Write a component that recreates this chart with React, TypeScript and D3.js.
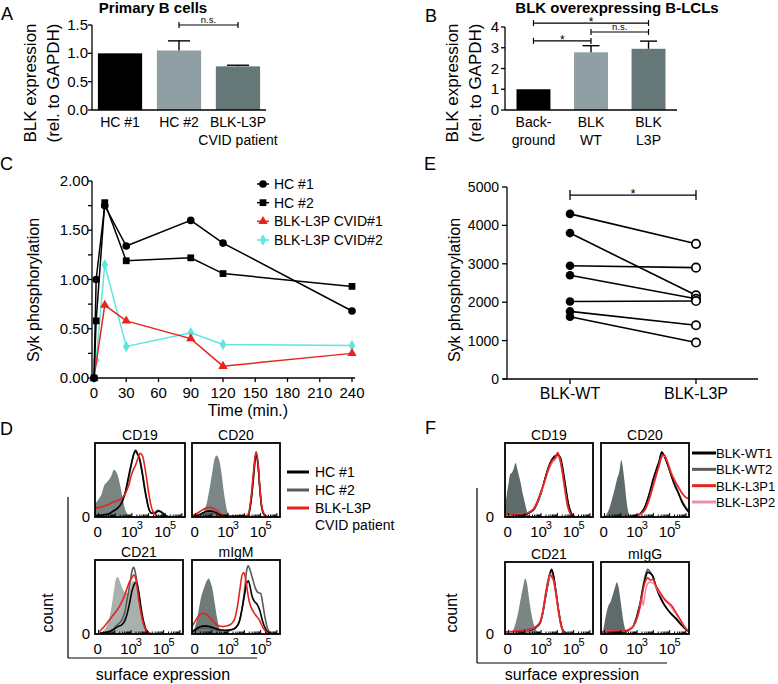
import React from "react";
import * as d3 from "d3";

const FONT = "'Liberation Sans', Arial, Helvetica, sans-serif";

// ---------- A: primary B cells ----------
const aCategories = ["HC #1", "HC #2", "BLK-L3P"];
const aLabelLines = [["HC #1"], ["HC #2"], ["BLK-L3P", "CVID patient"]];
const aValues = [1.0, 1.05, 0.77];
const aErrorTops = [1.0, 1.22, 0.79];
const aTicks = [0, 0.5, 1.0, 1.5];

// ---------- B: BLK overexpressing B-LCLs ----------
const bCategories = ["Background", "BLK WT", "BLK L3P"];
const bLabelLines = [["Back-", "ground"], ["BLK", "WT"], ["BLK", "L3P"]];
const bValues = [1.0, 2.78, 2.95];
const bErrorTops = [1.0, 3.1, 3.32];
const bTicks = [0, 1, 2, 3, 4];

// ---------- C: Syk phosphorylation time course ----------
const cTimeTicks = [0, 30, 60, 90, 120, 150, 180, 210, 240];
const cYTicks = [0, 0.5, 1.0, 1.5, 2.0];
const cYMinorTicks = [0.25, 0.75, 1.25, 1.75];
const cTimesHC = [0, 2, 10, 30, 90, 120, 240];
const cHC1 = [0, 1.0, 1.75, 1.34, 1.6, 1.37, 0.68];
const cHC2 = [0, 0.58, 1.78, 1.19, 1.22, 1.06, 0.93];
const cTimesCVID1 = [0, 10, 30, 90, 120, 240];
const cCVID1 = [0, 0.74, 0.58, 0.4, 0.12, 0.25];
const cTimesCVID2 = [0, 2, 10, 30, 90, 120, 240];
const cCVID2 = [0, 0.18, 1.15, 0.32, 0.46, 0.34, 0.33];
const cLegend = ["HC #1", "HC #2", "BLK-L3P CVID#1", "BLK-L3P CVID#2"];

// ---------- E: paired Syk phosphorylation ----------
const eGroups = ["BLK-WT", "BLK-L3P"];
const eWT = [4300, 3800, 2950, 2700, 2020, 1760, 1620];
const eL3P = [3520, 2180, 2900, 2090, 2030, 1400, 950];
const eTicks = [0, 1000, 2000, 3000, 4000, 5000];

// ---------- D / F: flow histograms, [channel 0-100, % of max] ----------
const dCD19Iso = [[0, 18], [4, 24], [7, 30], [10, 42], [14, 48], [18, 55], [21, 64], [24, 60], [27, 48], [30, 30], [33, 12], [36, 4], [40, 1], [45, 0]];
const dCD19HC1 = [[0, 2], [10, 3], [15, 4], [20, 8], [25, 12], [30, 20], [34, 35], [37, 53], [40, 70], [42, 80], [45, 90], [48, 83], [50, 75], [53, 55], [55, 39], [58, 20], [60, 10], [63, 5], [67, 5], [70, 8], [73, 7], [76, 4], [80, 1], [85, 0]];
const dCD19HC2 = [[0, 2], [10, 3], [20, 7], [27, 14], [33, 30], [37, 50], [40, 68], [43, 85], [45, 88], [47, 85], [50, 78], [53, 58], [56, 35], [59, 15], [62, 6], [66, 6], [70, 9], [74, 7], [78, 3], [82, 0]];
const dCD19CVID = [[0, 12], [5, 13], [10, 15], [15, 17], [20, 20], [25, 22], [28, 24], [33, 30], [36, 38], [38, 45], [40, 55], [42, 62], [45, 70], [48, 80], [50, 86], [53, 82], [55, 70], [57, 55], [60, 30], [63, 12], [66, 4], [70, 1], [75, 0]];

const dCD20Iso = [[5, 0], [10, 2], [13, 6], [17, 20], [20, 39], [23, 60], [25, 75], [28, 83], [30, 80], [32, 71], [34, 55], [36, 35], [38, 20], [40, 8], [43, 2], [46, 0]];
const dCD20HC1 = [[0, 1], [8, 3], [13, 6], [18, 8], [22, 8], [27, 6], [32, 3], [40, 1], [60, 1], [64, 3], [67, 20], [70, 55], [72, 80], [73, 85], [75, 70], [77, 40], [79, 15], [82, 3], [86, 0]];
const dCD20HC2 = [[0, 1], [8, 2], [13, 4], [18, 5], [23, 5], [28, 3], [35, 1], [60, 1], [64, 3], [67, 22], [70, 58], [72, 82], [73, 86], [75, 72], [77, 40], [79, 15], [82, 3], [86, 0]];
const dCD20CVID = [[0, 2], [6, 5], [11, 9], [16, 12], [20, 13], [24, 12], [28, 9], [32, 5], [37, 2], [45, 1], [60, 1], [64, 4], [67, 25], [70, 62], [72, 84], [73, 88], [75, 74], [77, 42], [79, 16], [82, 4], [86, 0]];

const dCD21Iso = [[5, 0], [10, 5], [13, 10], [16, 20], [19, 38], [22, 62], [24, 75], [26, 77], [28, 72], [31, 62], [34, 56], [37, 55], [40, 62], [43, 72], [46, 70], [49, 52], [52, 30], [55, 12], [58, 4], [62, 0]];
const dCD21HC1 = [[5, 1], [12, 2], [18, 4], [22, 7], [26, 10], [30, 12], [33, 16], [36, 25], [39, 40], [42, 58], [45, 68], [47, 70], [50, 55], [52, 38], [55, 18], [58, 6], [62, 1], [66, 0]];
const dCD21HC2 = [[5, 1], [14, 3], [20, 6], [25, 12], [30, 18], [34, 30], [37, 50], [40, 70], [42, 85], [44, 90], [46, 82], [48, 68], [51, 42], [54, 20], [57, 7], [61, 1], [65, 0]];
const dCD21CVID = [[5, 3], [9, 8], [13, 14], [17, 20], [21, 26], [25, 32], [29, 40], [33, 50], [36, 60], [39, 70], [42, 76], [44, 80], [46, 76], [48, 62], [50, 44], [53, 24], [56, 10], [60, 3], [64, 0]];

const dIgMIso = [[0, 0], [3, 8], [6, 22], [8, 35], [10, 48], [13, 60], [16, 70], [19, 75], [21, 70], [23, 62], [25, 48], [28, 25], [31, 8], [34, 2], [38, 0]];
const dIgMHC1 = [[0, 3], [5, 7], [10, 10], [15, 11], [20, 10], [25, 8], [30, 6], [38, 5], [45, 6], [50, 9], [54, 18], [57, 35], [60, 55], [62, 68], [64, 72], [66, 64], [68, 52], [71, 44], [74, 40], [77, 32], [80, 18], [84, 6], [88, 1], [92, 0]];
const dIgMHC2 = [[0, 2], [6, 6], [11, 8], [16, 8], [22, 7], [30, 5], [40, 4], [48, 7], [53, 14], [57, 35], [60, 62], [62, 85], [64, 92], [66, 86], [69, 74], [72, 62], [75, 56], [78, 55], [80, 44], [83, 22], [86, 7], [90, 1], [93, 0]];
const dIgMCVID = [[0, 10], [4, 18], [8, 25], [12, 28], [16, 27], [20, 22], [25, 16], [30, 11], [35, 10], [40, 11], [45, 14], [49, 22], [52, 40], [55, 65], [57, 80], [59, 83], [61, 74], [63, 58], [65, 44], [68, 34], [72, 26], [76, 20], [80, 10], [84, 3], [88, 0]];

const fCD19Iso = [[0, 10], [2, 30], [4, 45], [6, 58], [8, 60], [10, 66], [12, 73], [14, 65], [16, 55], [18, 45], [20, 32], [22, 22], [24, 12], [26, 4], [29, 1], [32, 0]];
const fCD19WT1 = [[0, 2], [10, 2], [20, 3], [28, 6], [33, 11], [37, 20], [41, 33], [45, 50], [49, 66], [53, 77], [57, 82], [60, 84], [63, 80], [66, 63], [69, 40], [72, 18], [75, 6], [78, 1], [82, 0]];
const fCD19WT2 = [[0, 2], [10, 3], [20, 3], [28, 6], [33, 10], [37, 19], [41, 32], [45, 49], [49, 65], [53, 76], [57, 83], [60, 82], [63, 78], [66, 61], [69, 38], [72, 17], [75, 5], [78, 1], [82, 0]];
const fCD19L3P1 = [[0, 3], [10, 3], [20, 4], [28, 7], [33, 12], [37, 22], [41, 35], [45, 48], [49, 64], [53, 75], [57, 80], [60, 87], [62, 80], [65, 62], [68, 38], [71, 16], [74, 5], [78, 1], [82, 0]];
const fCD19L3P2 = [[0, 2], [10, 3], [20, 4], [28, 7], [33, 12], [37, 21], [41, 34], [45, 47], [49, 62], [53, 72], [57, 78], [60, 82], [62, 79], [65, 61], [68, 37], [71, 15], [74, 5], [78, 1], [82, 0]];

const fCD20Iso = [[3, 0], [6, 3], [9, 10], [12, 22], [15, 35], [18, 50], [21, 62], [23, 77], [25, 65], [27, 45], [29, 22], [31, 7], [33, 2], [36, 0]];
const fCD20WT1 = [[30, 1], [40, 2], [45, 5], [50, 14], [55, 32], [59, 50], [63, 65], [66, 75], [69, 88], [72, 82], [76, 70], [80, 55], [84, 42], [88, 32], [92, 20], [96, 12], [100, 6]];
const fCD20WT2 = [[30, 1], [40, 2], [45, 5], [50, 13], [55, 30], [59, 48], [63, 63], [66, 74], [69, 86], [72, 83], [76, 70], [80, 56], [84, 44], [88, 33], [92, 22], [96, 14], [100, 8]];
const fCD20L3P1 = [[30, 1], [40, 2], [45, 4], [50, 10], [55, 25], [59, 42], [63, 58], [66, 70], [69, 82], [72, 84], [76, 72], [80, 58], [84, 48], [88, 40], [92, 32], [96, 27], [100, 25]];
const fCD20L3P2 = [[30, 1], [40, 2], [45, 4], [50, 9], [55, 24], [59, 40], [63, 56], [66, 68], [69, 80], [72, 82], [76, 74], [80, 60], [84, 50], [88, 41], [92, 33], [96, 27], [100, 24]];

const fCD21Iso = [[5, 1], [9, 5], [12, 15], [15, 30], [18, 50], [21, 68], [23, 77], [25, 70], [27, 52], [30, 28], [33, 12], [36, 4], [40, 0]];
const fCD21WT1 = [[0, 2], [15, 3], [25, 5], [32, 7], [36, 10], [40, 16], [43, 30], [46, 52], [49, 72], [52, 88], [53, 90], [55, 82], [58, 58], [61, 32], [64, 12], [67, 3], [71, 0]];
const fCD21WT2 = [[0, 2], [15, 3], [25, 5], [32, 7], [36, 10], [40, 15], [43, 29], [46, 50], [49, 70], [52, 86], [53, 88], [55, 80], [58, 57], [61, 31], [64, 11], [67, 3], [71, 0]];
const fCD21L3P1 = [[0, 3], [15, 4], [25, 6], [32, 8], [36, 11], [40, 17], [43, 32], [46, 55], [49, 75], [51, 84], [53, 80], [55, 76], [58, 55], [61, 30], [64, 10], [67, 2], [71, 0]];
const fCD21L3P2 = [[0, 2], [15, 3], [25, 5], [32, 8], [36, 11], [40, 17], [43, 31], [46, 54], [49, 73], [51, 80], [53, 78], [55, 74], [58, 54], [61, 29], [64, 10], [67, 2], [71, 0]];

const fIgGIso = [[2, 2], [4, 15], [6, 28], [8, 38], [11, 45], [14, 57], [16, 65], [18, 72], [20, 65], [22, 48], [24, 30], [26, 14], [28, 5], [31, 1], [34, 0]];
const fIgGWT1 = [[0, 2], [15, 3], [25, 3], [32, 6], [37, 12], [41, 25], [45, 45], [48, 65], [51, 80], [53, 86], [56, 84], [59, 80], [62, 68], [66, 55], [70, 45], [75, 35], [80, 28], [85, 22], [90, 15], [95, 8], [100, 3]];
const fIgGWT2 = [[0, 2], [15, 3], [25, 3], [32, 6], [37, 12], [41, 26], [45, 47], [48, 68], [51, 84], [53, 90], [56, 86], [59, 80], [62, 67], [66, 54], [70, 44], [75, 35], [80, 27], [85, 21], [90, 14], [95, 8], [100, 3]];
const fIgGL3P1 = [[0, 3], [15, 4], [25, 4], [32, 6], [37, 11], [41, 22], [45, 42], [48, 62], [51, 75], [53, 78], [56, 75], [59, 76], [62, 68], [66, 60], [70, 52], [75, 45], [80, 40], [85, 30], [90, 20], [95, 10], [100, 3]];
const fIgGL3P2 = [[0, 3], [15, 4], [25, 4], [32, 7], [37, 12], [41, 22], [44, 35], [46, 50], [48, 40], [50, 56], [53, 70], [56, 72], [60, 70], [64, 62], [68, 54], [73, 46], [78, 40], [84, 30], [90, 20], [95, 10], [100, 3]];

const histTickLabels = ["0", "10", "10"];
const histTickExponents = ["", "3", "5"];
const dLegend = ["HC #1", "HC #2", "BLK-L3P"];
const fLegend = ["BLK-WT1", "BLK-WT2", "BLK-L3P1", "BLK-L3P2"];

// colours
const BLACK = "#000";
const GRAY_LINE = "#5a5a5a";
const RED = "#e8231e";
const PINK = "#f08cae";
const CYAN = "#5fe6dd";

// ---------------- bar panel ----------------
function BarPanel(p: any) {
  const y = d3.scaleLinear().domain([0, p.max]).range([p.bottom, p.top]);
  const x = d3.scaleBand<string>().domain(p.cats).range([p.left, p.right]).paddingInner(p.pIn).paddingOuter(p.pOut);
  const bw = x.bandwidth();
  const cx = (c: string) => (x(c) as number) + bw / 2;
  return (
    <g fontFamily={FONT}>
      {p.cats.map((c: string, i: number) => (
        <rect key={c} x={x(c)} y={y(p.values[i])} width={bw} height={y(0) - y(p.values[i])} fill={p.colors[i]} />
      ))}
      {p.cats.map((c: string, i: number) =>
        p.errTops[i] > p.values[i] ? (
          <g key={c} stroke={BLACK} strokeWidth={1.4}>
            <line x1={cx(c)} x2={cx(c)} y1={y(p.values[i])} y2={y(p.errTops[i])} />
            <line x1={cx(c) - bw / 4} x2={cx(c) + bw / 4} y1={y(p.errTops[i])} y2={y(p.errTops[i])} />
          </g>
        ) : null
      )}
      <line x1={p.left} x2={p.left} y1={y(p.max)} y2={y(0)} stroke={BLACK} strokeWidth={1.3} />
      <line x1={p.left} x2={p.right} y1={y(0)} y2={y(0)} stroke={BLACK} strokeWidth={1.3} />
      {p.ticks.map((t: number) => (
        <g key={t}>
          <line x1={p.left - 4} x2={p.left} y1={y(t)} y2={y(t)} stroke={BLACK} strokeWidth={1.3} />
          <text x={p.left - p.labelGap} y={y(t) + 5} textAnchor="end" fontSize={15}>{p.fmt(t)}</text>
        </g>
      ))}
      {p.cats.map((c: string, i: number) => (
        <text key={c} textAnchor="middle" fontSize={14}>
          {p.labelLines[i].map((l: string, j: number) => (
            <tspan key={j} x={cx(c)} y={y(0) + 17 + j * 18}>{l}</tspan>
          ))}
        </text>
      ))}
      {p.brackets.map((b: any, k: number) => {
        const x1 = cx(p.cats[b.from]);
        const x2 = cx(p.cats[b.to]);
        const yy = y(b.level);
        const star = b.label === "*";
        return (
          <g key={k}>
            <g stroke={BLACK} strokeWidth={1.2}>
              <line x1={x1} x2={x2} y1={yy} y2={yy} />
              <line x1={x1} x2={x1} y1={yy - 3} y2={yy + 3} />
              <line x1={x2} x2={x2} y1={yy - 3} y2={yy + 3} />
            </g>
            <text x={(x1 + x2) / 2} y={star ? yy + 3 : yy - 2} textAnchor="middle" fontSize={star ? 12 : 9.5}>{b.label}</text>
          </g>
        );
      })}
    </g>
  );
}

// ---------------- panel C ----------------
function TimeCourse() {
  const x = d3.scaleLinear().domain([0, 240]).range([94, 352]);
  const y = d3.scaleLinear().domain([0, 2]).range([378, 181]);
  const series = [
    { times: cTimesCVID2, vals: cCVID2, color: CYAN, sym: d3.symbolDiamond, size: 38 },
    { times: cTimesCVID1, vals: cCVID1, color: RED, sym: d3.symbolTriangle, size: 38 },
    { times: cTimesHC, vals: cHC1, color: BLACK, sym: d3.symbolCircle, size: 46 },
    { times: cTimesHC, vals: cHC2, color: BLACK, sym: d3.symbolSquare, size: 46 },
  ];
  const legendOrder = [2, 3, 1, 0];
  const legendY = d3.scalePoint<number>().domain([0, 1, 2, 3]).range([184, 240]);
  return (
    <g fontFamily={FONT}>
      {series.map((s, i) => {
        const line = d3.line<number>().x((_, k) => x(s.times[k])).y((v) => y(v));
        const sym = d3.symbol().type(s.sym).size(s.size)();
        return (
          <g key={i}>
            <path d={line(s.vals) || ""} fill="none" stroke={s.color} strokeWidth={1.5} />
            {s.vals.map((v, k) => (
              <path key={k} d={sym || ""} transform={`translate(${x(s.times[k])},${y(v)})`} fill={s.color} />
            ))}
          </g>
        );
      })}
      <line x1={92} x2={92} y1={y(2)} y2={y(0)} stroke={BLACK} strokeWidth={1.3} />
      <line x1={92} x2={355} y1={y(0)} y2={y(0)} stroke={BLACK} strokeWidth={1.3} />
      {cYTicks.map((t) => (
        <g key={t}>
          <line x1={88} x2={92} y1={y(t)} y2={y(t)} stroke={BLACK} strokeWidth={1.3} />
          <text x={89} y={y(t) + 5} textAnchor="end" fontSize={15}>{d3.format(".2f")(t)}</text>
        </g>
      ))}
      {cYMinorTicks.map((t) => (
        <line key={t} x1={88} x2={92} y1={y(t)} y2={y(t)} stroke={BLACK} strokeWidth={1.3} />
      ))}
      {cTimeTicks.map((t) => (
        <g key={t}>
          <line x1={x(t)} x2={x(t)} y1={y(0)} y2={y(0) + 4} stroke={BLACK} strokeWidth={1.3} />
          <text x={x(t)} y={y(0) + 20} textAnchor="middle" fontSize={15}>{t}</text>
        </g>
      ))}
      <text x={248} y={416} textAnchor="middle" fontSize={16}>Time (min.)</text>
      <text transform="translate(39,290) rotate(-90)" textAnchor="middle" fontSize={16}>Syk phosphorylation</text>
      {legendOrder.map((si, r) => {
        const s = series[si];
        const yy = legendY(r) as number;
        const sym = d3.symbol().type(s.sym).size(s.size)();
        return (
          <g key={r}>
            <line x1={257} x2={269} y1={yy} y2={yy} stroke={s.color} strokeWidth={1.5} />
            <path d={sym || ""} transform={`translate(263,${yy})`} fill={s.color} />
            <text x={274} y={yy + 5} fontSize={14}>{cLegend[r]}</text>
          </g>
        );
      })}
    </g>
  );
}

// ---------------- panel E ----------------
function Paired() {
  const x = d3.scalePoint<string>().domain(eGroups).range([570, 696]);
  const y = d3.scaleLinear().domain([0, 5000]).range([379, 187]);
  const xa = x(eGroups[0]) as number;
  const xb = x(eGroups[1]) as number;
  return (
    <g fontFamily={FONT}>
      {eWT.map((v, i) => (
        <line key={i} x1={xa} x2={xb} y1={y(v)} y2={y(eL3P[i])} stroke={BLACK} strokeWidth={1.6} />
      ))}
      {eWT.map((v, i) => (
        <circle key={"a" + i} cx={xa} cy={y(v)} r={4.3} fill={BLACK} />
      ))}
      {eL3P.map((v, i) => (
        <circle key={"b" + i} cx={xb} cy={y(v)} r={4.2} fill="#fff" stroke={BLACK} strokeWidth={1.7} />
      ))}
      <line x1={507} x2={507} y1={y(5000)} y2={y(0)} stroke={BLACK} strokeWidth={1.3} />
      <line x1={503} x2={758} y1={y(0)} y2={y(0)} stroke={BLACK} strokeWidth={1.3} />
      {eTicks.map((t) => (
        <g key={t}>
          <line x1={502} x2={507} y1={y(t)} y2={y(t)} stroke={BLACK} strokeWidth={1.3} />
          <text x={499} y={y(t) + 5} textAnchor="end" fontSize={14}>{t}</text>
        </g>
      ))}
      {eGroups.map((g) => (
        <g key={g}>
          <line x1={x(g)} x2={x(g)} y1={y(0)} y2={y(0) + 5} stroke={BLACK} strokeWidth={1.3} />
          <text x={x(g)} y={y(0) + 20} textAnchor="middle" fontSize={16}>{g}</text>
        </g>
      ))}
      <g stroke={BLACK} strokeWidth={1.3}>
        <line x1={xa} x2={xb} y1={y(4790)} y2={y(4790)} />
        <line x1={xa} x2={xa} y1={y(4790) - 5} y2={y(4790) + 5} />
        <line x1={xb} x2={xb} y1={y(4790) - 5} y2={y(4790) + 5} />
      </g>
      <text x={(xa + xb) / 2} y={y(4790) + 3} textAnchor="middle" fontSize={13}>*</text>
      <text transform="translate(460,290) rotate(-90)" textAnchor="middle" fontSize={16}>Syk phosphorylation</text>
    </g>
  );
}

// ---------------- flow histogram ----------------
function Histo(p: any) {
  const sx = d3.scaleLinear().domain([0, 100]).range([p.x0, p.x0 + p.w]);
  const sy = d3.scaleLinear().domain([0, 100]).range([p.y0 + p.h, p.y0]);
  const decade = d3.scaleLog().domain([1e3, 1e5]).range([41, 78]);
  const minor = d3.scaleLog().domain([10, 1e6]).ticks().filter((t) => decade(t) >= 1 && decade(t) <= 99);
  const area = d3.area<number[]>().x((d) => sx(d[0])).y0(sy(0)).y1((d) => sy(d[1])).curve(d3.curveMonotoneX);
  const line = d3.line<number[]>().x((d) => sx(d[0])).y((d) => sy(d[1])).curve(d3.curveMonotoneX);
  const labelPos = [3, decade(1e3), decade(1e5)];
  const bottom = p.y0 + p.h;
  return (
    <g fontFamily={FONT}>
      <clipPath id={p.id}>
        <rect x={p.x0} y={p.y0} width={p.w} height={p.h} />
      </clipPath>
      <g clipPath={`url(#${p.id})`}>
        <path d={area(p.iso) || ""} fill={p.isoColor} />
        {p.curves.map((c: any, i: number) => (
          <path key={i} d={line(c.data) || ""} fill="none" stroke={c.color} strokeWidth={1.6} />
        ))}
      </g>
      <rect x={p.x0} y={p.y0} width={p.w} height={p.h} fill="none" stroke={BLACK} strokeWidth={1.8} />
      {minor.map((t, i) => {
        const major = Math.abs(Math.log10(t) - Math.round(Math.log10(t))) < 1e-9;
        return (
          <line key={i} x1={sx(decade(t))} x2={sx(decade(t))} y1={bottom - (major ? 4 : 2.5)} y2={bottom} stroke={BLACK} strokeWidth={1} />
        );
      })}
      <text x={p.x0 + p.w / 2} y={p.y0 - 3} textAnchor="middle" fontSize={14}>{p.title}</text>
      {histTickLabels.map((l, i) => (
        <text key={i} x={sx(labelPos[i])} y={bottom + 20} textAnchor="middle" fontSize={15}>
          {l}
          {histTickExponents[i] ? <tspan dx={-1} dy={-8} fontSize={11}>{histTickExponents[i]}</tspan> : null}
        </text>
      ))}
      {p.zeroGap ? <text x={p.x0 - p.zeroGap} y={bottom + 5} textAnchor="end" fontSize={15}>0</text> : null}
    </g>
  );
}

function Label({ x, y, t }: any) {
  return <text x={x} y={y} fontFamily={FONT} fontSize={18}>{t}</text>;
}

export default function App() {
  const grayBarColors = [BLACK, "#909fa3", "#667777"];
  const dCurves = (hc1: any, hc2: any, cvid: any) => [
    { data: hc2, color: GRAY_LINE },
    { data: hc1, color: BLACK },
    { data: cvid, color: RED },
  ];
  const fCurves = (wt1: any, wt2: any, l1: any, l2: any) => [
    { data: wt2, color: GRAY_LINE },
    { data: wt1, color: BLACK },
    { data: l2, color: PINK },
    { data: l1, color: RED },
  ];
  const dLegendColors = [BLACK, GRAY_LINE, RED];
  const fLegendColors = [BLACK, GRAY_LINE, RED, PINK];
  const dLegendY = d3.scalePoint<number>().domain([0, 1, 2]).range([472, 508]);
  const fLegendY = d3.scalePoint<number>().domain([0, 1, 2, 3]).range([453, 502]);
  return (
    <svg width={778} height={684} style={{ position: "absolute", left: 0, top: 0, background: "#fff" }}>
      <rect width={778} height={684} fill="#fff" />
      {/* panel letters */}
      <Label x={1} y={20} t="A" />
      <Label x={425} y={22} t="B" />
      <Label x={0} y={170} t="C" />
      <Label x={424} y={170} t="E" />
      <Label x={0} y={435} t="D" />
      <Label x={425} y={434} t="F" />

      {/* A */}
      <text x={153} y={13} textAnchor="middle" fontFamily={FONT} fontWeight="bold" fontSize={15}>Primary B cells</text>
      <text transform="translate(36,83) rotate(-90)" textAnchor="middle" fontFamily={FONT} fontSize={17}>BLK expression</text>
      <text transform="translate(59,83) rotate(-90)" textAnchor="middle" fontFamily={FONT} fontSize={17}>(rel. to GAPDH)</text>
      <BarPanel left={92} right={266} top={25} bottom={110} max={1.5} ticks={aTicks} fmt={d3.format(".1f")} labelGap={4}
        cats={aCategories} labelLines={aLabelLines} values={aValues} errTops={aErrorTops} colors={grayBarColors}
        pIn={0.25} pOut={0.1} brackets={[{ from: 1, to: 2, level: 1.5, label: "n.s." }]} />

      {/* B */}
      <text x={617} y={13} textAnchor="middle" fontFamily={FONT} fontWeight="bold" fontSize={15}>BLK overexpressing B-LCLs</text>
      <text transform="translate(458,83) rotate(-90)" textAnchor="middle" fontFamily={FONT} fontSize={17}>BLK expression</text>
      <text transform="translate(481,83) rotate(-90)" textAnchor="middle" fontFamily={FONT} fontSize={17}>(rel. to GAPDH)</text>
      <BarPanel left={505} right={677} top={27} bottom={110} max={4} ticks={bTicks} fmt={d3.format("d")} labelGap={6}
        cats={bCategories} labelLines={bLabelLines} values={bValues} errTops={bErrorTops} colors={grayBarColors}
        pIn={0.41} pOut={0.2}
        brackets={[
          { from: 0, to: 2, level: 4.19, label: "*" },
          { from: 1, to: 2, level: 3.76, label: "n.s." },
          { from: 0, to: 1, level: 3.33, label: "*" },
        ]} />

      <TimeCourse />
      <Paired />

      {/* D */}
      <Histo id="dcd19" x0={95} y0={443} w={90} h={74} title="CD19" iso={dCD19Iso} isoColor="#788583" zeroGap={5}
        curves={dCurves(dCD19HC1, dCD19HC2, dCD19CVID)} />
      <Histo id="dcd20" x0={192} y0={443} w={88} h={74} title="CD20" iso={dCD20Iso} isoColor="#7b8786" zeroGap={0}
        curves={dCurves(dCD20HC1, dCD20HC2, dCD20CVID)} />
      <Histo id="dcd21" x0={95} y0={560} w={88} h={74} title="CD21" iso={dCD21Iso} isoColor="#a9b1af" zeroGap={5}
        curves={dCurves(dCD21HC1, dCD21HC2, dCD21CVID)} />
      <Histo id="digm" x0={192} y0={560} w={88} h={74} title="mIgM" iso={dIgMIso} isoColor="#6e7b79" zeroGap={0}
        curves={dCurves(dIgMHC1, dIgMHC2, dIgMCVID)} />
      <g fontFamily={FONT}>
        <line x1={68} x2={68} y1={497} y2={658} stroke={BLACK} strokeWidth={1.2} />
        <line x1={68} x2={257} y1={658} y2={658} stroke={BLACK} strokeWidth={1.2} />
        <text transform="translate(53,613) rotate(-90)" textAnchor="middle" fontSize={16}>count</text>
        <text x={163} y={680} textAnchor="middle" fontSize={16}>surface expression</text>
        {dLegend.map((l, i) => (
          <g key={l}>
            <line x1={287} x2={309} y1={dLegendY(i)} y2={dLegendY(i)} stroke={dLegendColors[i]} strokeWidth={3} />
            <text x={315} y={(dLegendY(i) as number) + 5} fontSize={14}>{l}</text>
          </g>
        ))}
        <text x={315} y={(dLegendY(2) as number) + 22} fontSize={14}>CVID patient</text>
      </g>

      {/* F */}
      <Histo id="fcd19" x0={505} y0={443} w={88} h={74} title="CD19" iso={fCD19Iso} isoColor="#5f6b6a" zeroGap={11}
        curves={fCurves(fCD19WT1, fCD19WT2, fCD19L3P1, fCD19L3P2)} />
      <Histo id="fcd20" x0={601} y0={443} w={88} h={74} title="CD20" iso={fCD20Iso} isoColor="#5f6b6a" zeroGap={0}
        curves={fCurves(fCD20WT1, fCD20WT2, fCD20L3P1, fCD20L3P2)} />
      <Histo id="fcd21" x0={505} y0={562} w={88} h={72} title="CD21" iso={fCD21Iso} isoColor="#7b8584" zeroGap={11}
        curves={fCurves(fCD21WT1, fCD21WT2, fCD21L3P1, fCD21L3P2)} />
      <Histo id="figg" x0={601} y0={562} w={88} h={72} title="mIgG" iso={fIgGIso} isoColor="#5f6b6a" zeroGap={0}
        curves={fCurves(fIgGWT1, fIgGWT2, fIgGL3P1, fIgGL3P2)} />
      <g fontFamily={FONT}>
        <line x1={477} x2={477} y1={488} y2={663} stroke={BLACK} strokeWidth={1.2} />
        <line x1={477} x2={667} y1={663} y2={663} stroke={BLACK} strokeWidth={1.2} />
        <text transform="translate(457,613) rotate(-90)" textAnchor="middle" fontSize={16}>count</text>
        <text x={572} y={680} textAnchor="middle" fontSize={16}>surface expression</text>
        {fLegend.map((l, i) => (
          <g key={l}>
            <line x1={692} x2={716} y1={fLegendY(i)} y2={fLegendY(i)} stroke={fLegendColors[i]} strokeWidth={3} />
            <text x={716} y={(fLegendY(i) as number) + 5} fontSize={13}>{l}</text>
          </g>
        ))}
      </g>
    </svg>
  );
}
